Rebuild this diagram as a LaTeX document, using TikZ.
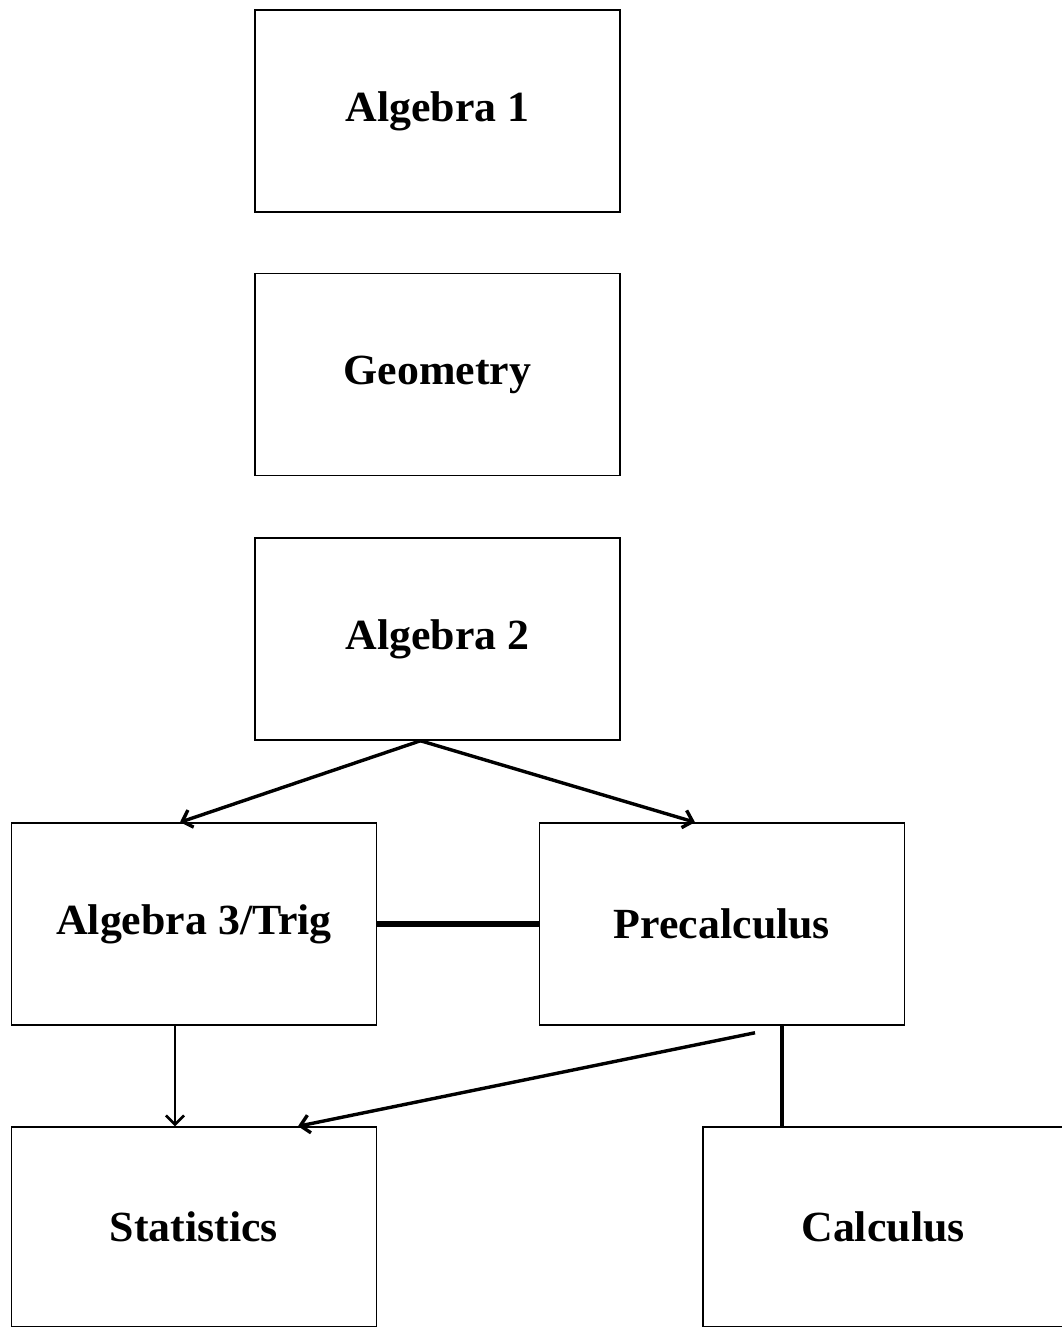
\documentclass[tikz,border=0pt]{standalone}
\usepackage{fontspec}
\setmainfont[FakeStretch=1.02]{Liberation Serif}
\usetikzlibrary{arrows.meta}
\begin{document}
\begin{tikzpicture}[x=1pt,y=-1pt]
		\tikzstyle{every node}+=[inner sep=0pt]
		\tikzstyle{course}=[draw=black, line width=1.5pt, minimum width=365pt, minimum height=202pt, font=\fontsize{43}{50}\selectfont\bfseries]
		\tikzstyle{arr}=[black, line width=3.4pt, -{Straight Barb[length=9pt,width=18pt]}]
		\useasboundingbox (0,0) rectangle (1062,1327);
		\clip (0,0) rectangle (1062,1327);
		\node [course] (alg1) at (437.5,111) {Algebra 1};
		\node [course] (geom) at (437.5,374.5) {Geometry};
		\node [course] (alg2) at (437.5,639) {Algebra 2};
		\node [course] (trig) at (194,924) {Algebra 3/Trig};
		\node [course] (pre) at (722,924) {Precalculus};
		\node [course, minimum height=200pt] (stat) at (194,1227) {Statistics};
		\node [course, minimum width=360pt, minimum height=200pt] (calc) at (883,1227) {Calculus};
		\draw [arr] ([xshift=-17pt]alg2.south) -- ([xshift=-14pt]trig.north);
		\draw [arr] ([xshift=-17pt]alg2.south) -- ([xshift=-27pt]pre.north);
		\draw [black, line width=6pt] (trig.east) -- (pre.west);
		\draw [arr, line width=2.6pt] ([xshift=-19pt]trig.south) -- ([xshift=-19pt]stat.north);
		\draw [arr] ([xshift=33pt,yshift=-7pt]pre.south) -- ([xshift=104pt]stat.north);
		\draw [black, line width=3.8pt] ([xshift=60pt]pre.south) -- ([xshift=-101pt]calc.north);
\end{tikzpicture}
\end{document}
